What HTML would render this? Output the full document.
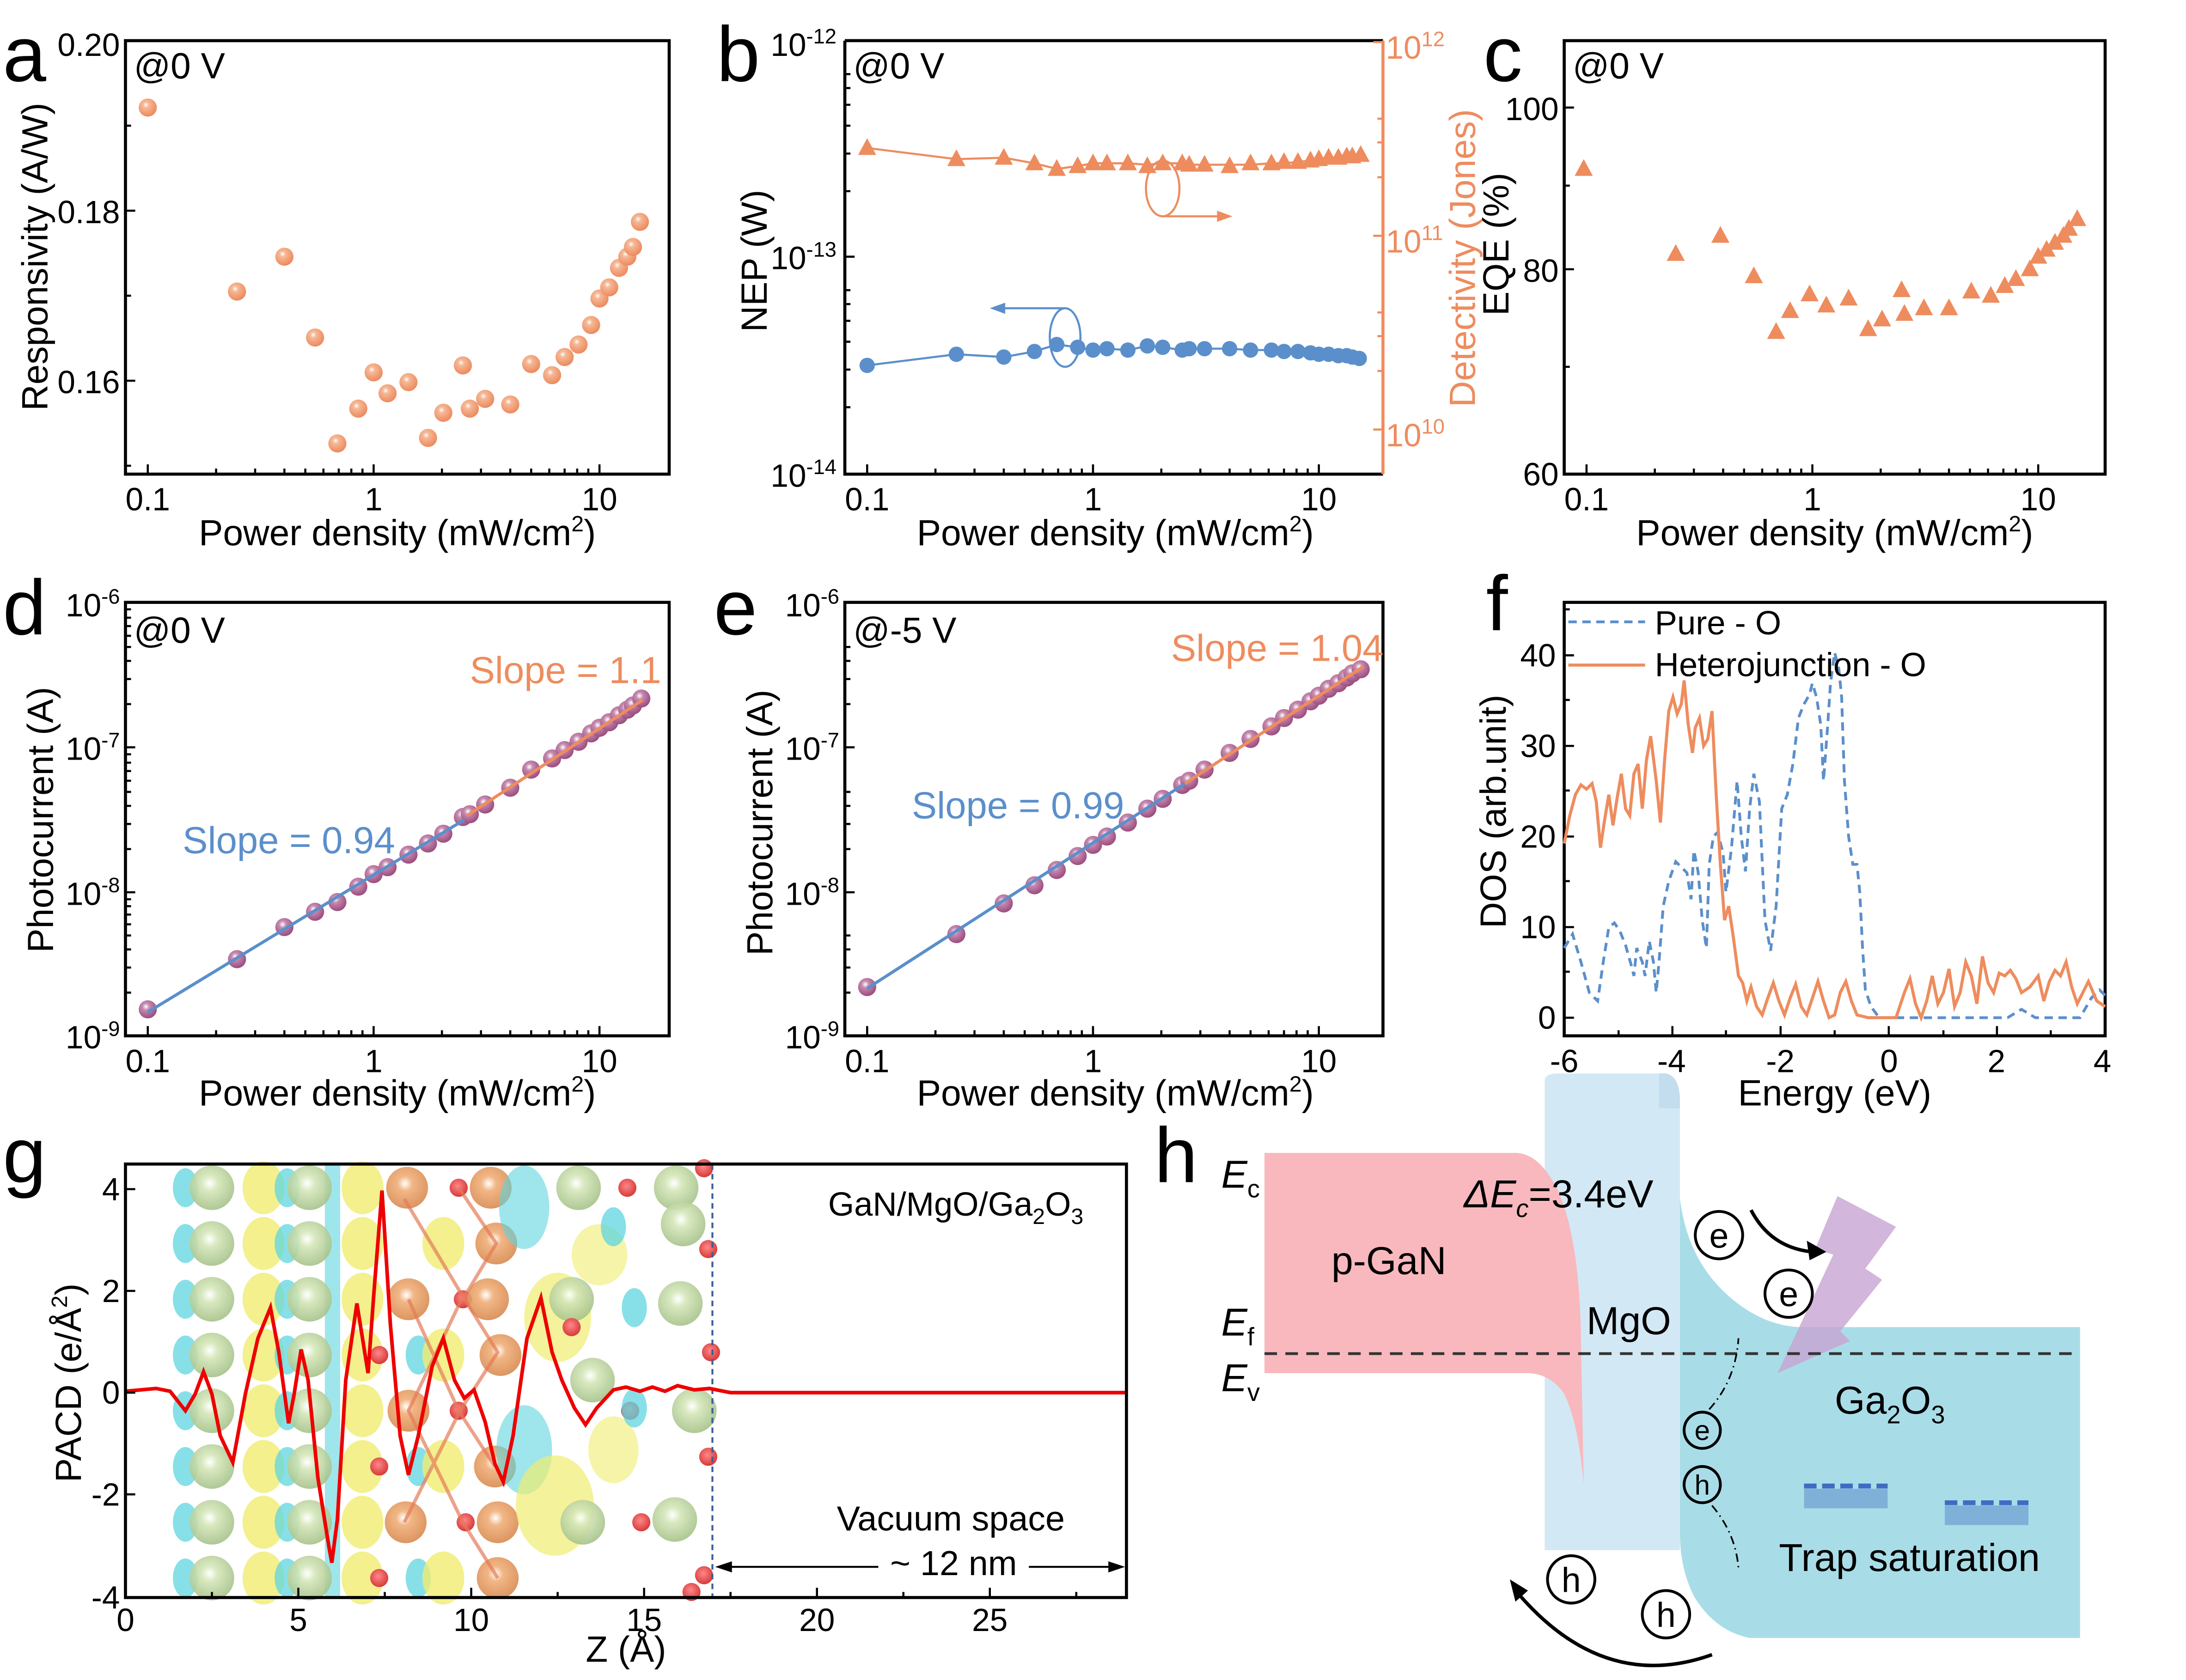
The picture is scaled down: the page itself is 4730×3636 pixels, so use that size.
<!DOCTYPE html>
<html><head><meta charset="utf-8"><style>
html,body{margin:0;padding:0;background:#fff;overflow:hidden}
svg{display:block}
text{font-family:"Liberation Sans Narrow","Liberation Sans",Arial,sans-serif}
.t{font-size:23px}
.l{font-size:26px}
.p{font-size:56px;font-family:"Liberation Sans",Arial,sans-serif}
</style></head><body>
<svg width="4730" height="3636" viewBox="0 0 1568 1205" xmlns="http://www.w3.org/2000/svg">
<defs>
<radialGradient id="og" cx="0.4" cy="0.35" r="0.65"><stop offset="0" stop-color="#fff"/><stop offset="0.25" stop-color="#f6b896"/><stop offset="1" stop-color="#ec8a5e"/></radialGradient>
<radialGradient id="pg" cx="0.4" cy="0.35" r="0.65"><stop offset="0" stop-color="#fff"/><stop offset="0.3" stop-color="#c58ab0"/><stop offset="1" stop-color="#9c4d7e"/></radialGradient>
<radialGradient id="gg" cx="0.45" cy="0.4" r="0.6"><stop offset="0" stop-color="#fff"/><stop offset="0.3" stop-color="#d4e6b8"/><stop offset="1" stop-color="#a6c28a"/></radialGradient>
<radialGradient id="org" cx="0.45" cy="0.4" r="0.6"><stop offset="0" stop-color="#fff"/><stop offset="0.3" stop-color="#f0ae78"/><stop offset="1" stop-color="#d88a50"/></radialGradient>
<radialGradient id="rg" cx="0.45" cy="0.4" r="0.6"><stop offset="0" stop-color="#f88"/><stop offset="1" stop-color="#d63a3a"/></radialGradient>
<circle id="ma" r="6.5" fill="url(#og)"/>
<circle id="mp" r="6.5" fill="url(#pg)"/>
<circle id="mb" r="5.5" fill="#5b8fcb"/>
<path id="tr" d="M0,-7 L6.5,5 L-6.5,5Z" fill="#ee8c5e"/>
<circle id="G" r="16" fill="url(#gg)" opacity="0.9"/>
<circle id="O" r="15" fill="url(#org)" opacity="0.9"/>
<circle id="R" r="6.5" fill="url(#rg)"/>
<ellipse id="Y" rx="15" ry="19" fill="#f0ec70" opacity="0.8"/>
<ellipse id="C" rx="9" ry="14" fill="#5fd6e0" opacity="0.75"/>
</defs>

<!-- ===== Panel a ===== -->
<text x="2" y="58" class="p">a</text>
<rect x="90" y="29" width="390" height="311" fill="none" stroke="#000" stroke-width="2.2"/>
<g stroke="#000" stroke-width="1.5">
<path d="M106,340v-7M268,340v-7M430,340v-7M155,340v-4M183,340v-4M204,340v-4M219,340v-4M232,340v-4M243,340v-4M252,340v-4M260,340v-4M317,340v-4M345,340v-4M366,340v-4M381,340v-4M394,340v-4M405,340v-4M414,340v-4M422,340v-4"/>
<path d="M90,29h7M90,151h7M90,273h7M90,90h4M90,212h4M90,334h4"/>
</g>
<g class="t" text-anchor="end"><text x="86" y="40">0.20</text><text x="86" y="160">0.18</text><text x="86" y="282">0.16</text></g>
<g class="t" text-anchor="middle"><text x="106" y="366">0.1</text><text x="268" y="366">1</text><text x="430" y="366">10</text></g>
<text x="285" y="391" class="l" text-anchor="middle">Power density (mW/cm<tspan dy="-10" font-size="16">2</tspan><tspan dy="10">)</tspan></text>
<text transform="translate(34,184) rotate(-90)" class="l" text-anchor="middle">Responsivity (A/W)</text>
<text x="96" y="56" style="font-size:26px">@0 V</text>
<g>
<use href="#ma" x="106" y="77"/><use href="#ma" x="170" y="209"/><use href="#ma" x="204" y="184"/><use href="#ma" x="226" y="242"/><use href="#ma" x="242" y="318"/><use href="#ma" x="257" y="293"/><use href="#ma" x="268" y="267"/><use href="#ma" x="278" y="282"/><use href="#ma" x="293" y="274"/><use href="#ma" x="307" y="314"/><use href="#ma" x="318" y="296"/><use href="#ma" x="332" y="262"/><use href="#ma" x="337" y="293"/><use href="#ma" x="348" y="286"/><use href="#ma" x="366" y="290"/><use href="#ma" x="381" y="261"/><use href="#ma" x="396" y="269"/><use href="#ma" x="405" y="256"/><use href="#ma" x="415" y="247"/><use href="#ma" x="424" y="233"/><use href="#ma" x="430" y="214"/><use href="#ma" x="437" y="206"/><use href="#ma" x="444" y="192"/><use href="#ma" x="450" y="184"/><use href="#ma" x="454" y="177"/><use href="#ma" x="459" y="159"/>
</g>

<!-- ===== Panel b ===== -->
<text x="514" y="58" class="p">b</text>
<path d="M606,29H992M606,29V340H992" fill="none" stroke="#000" stroke-width="2.2"/>
<path d="M992,29V340" stroke="#ee8c5e" stroke-width="2.2"/>
<g stroke="#000" stroke-width="1.5">
<path d="M622,340v-7M784,340v-7M946,340v-7M671,340v-4M699,340v-4M720,340v-4M735,340v-4M748,340v-4M759,340v-4M768,340v-4M776,340v-4M833,340v-4M861,340v-4M882,340v-4M897,340v-4M910,340v-4M921,340v-4M930,340v-4M938,340v-4"/>
<path d="M606,29h7M606,184h7M606,340h7M606,137h4M606,110h4M606,90h4M606,75h4M606,63h4M606,53h4M606,292h4M606,265h4M606,245h4M606,230h4M606,218h4M606,208h4"/>
</g>
<g stroke="#ee8c5e" stroke-width="1.5"><path d="M992,30h-7M992,169h-7M992,308h-7M992,127h-4M992,102h-4M992,85h-4M992,266h-4M992,241h-4M992,224h-4"/></g>
<g class="t"><text x="600" y="40" text-anchor="end">10<tspan dy="-9" font-size="15">-12</tspan></text><text x="600" y="193" text-anchor="end">10<tspan dy="-9" font-size="15">-13</tspan></text><text x="600" y="349" text-anchor="end">10<tspan dy="-9" font-size="15">-14</tspan></text></g>
<g class="t" fill="#ee8c5e"><text x="994" y="42">10<tspan dy="-9" font-size="15">12</tspan></text><text x="994" y="181">10<tspan dy="-9" font-size="15">11</tspan></text><text x="994" y="320">10<tspan dy="-9" font-size="15">10</tspan></text></g>
<g class="t" text-anchor="middle"><text x="622" y="366">0.1</text><text x="784" y="366">1</text><text x="946" y="366">10</text></g>
<text x="800" y="391" class="l" text-anchor="middle">Power density (mW/cm<tspan dy="-10" font-size="16">2</tspan><tspan dy="10">)</tspan></text>
<text transform="translate(550,187) rotate(-90)" class="l" text-anchor="middle">NEP (W)</text>
<text transform="translate(1058,185) rotate(-90)" class="l" text-anchor="middle" fill="#ee8c5e">Detectivity (Jones)</text>
<text x="612" y="56" style="font-size:26px">@0 V</text>
<polyline fill="none" stroke="#ee8c5e" stroke-width="1.5" points="622,106 686,114 720,113 742,117 758,121 773,119 784,117 794,117 809,117 823,118 834,117 848,117 853,118 864,118 882,118 897,118 912,117 921,117 931,116 940,115 946,114 953,113 960,113 966,112 970,112 976,111"/>
<g><use href="#tr" x="622" y="106"/><use href="#tr" x="686" y="114"/><use href="#tr" x="720" y="113"/><use href="#tr" x="742" y="117"/><use href="#tr" x="758" y="121"/><use href="#tr" x="773" y="119"/><use href="#tr" x="784" y="117"/><use href="#tr" x="794" y="117"/><use href="#tr" x="809" y="117"/><use href="#tr" x="823" y="119"/><use href="#tr" x="834" y="117"/><use href="#tr" x="848" y="117"/><use href="#tr" x="853" y="118"/><use href="#tr" x="864" y="118"/><use href="#tr" x="882" y="119"/><use href="#tr" x="897" y="117"/><use href="#tr" x="912" y="117"/><use href="#tr" x="921" y="116"/><use href="#tr" x="931" y="116"/><use href="#tr" x="940" y="115"/><use href="#tr" x="946" y="114"/><use href="#tr" x="953" y="113"/><use href="#tr" x="960" y="113"/><use href="#tr" x="966" y="112"/><use href="#tr" x="970" y="112"/><use href="#tr" x="976" y="111"/></g>
<polyline fill="none" stroke="#5b8fcb" stroke-width="1.5" points="622,262 686,254 720,256 742,252 758,247 773,249 784,251 794,250 809,251 823,248 834,249 848,251 853,250 864,250 882,250 897,251 912,251 921,252 931,252 940,253 946,254 953,254 960,255 966,255 970,256 976,257"/>
<g><use href="#mb" x="622" y="262"/><use href="#mb" x="686" y="254"/><use href="#mb" x="720" y="256"/><use href="#mb" x="742" y="252"/><use href="#mb" x="758" y="247"/><use href="#mb" x="773" y="249"/><use href="#mb" x="784" y="251"/><use href="#mb" x="794" y="250"/><use href="#mb" x="809" y="251"/><use href="#mb" x="823" y="248"/><use href="#mb" x="834" y="249"/><use href="#mb" x="848" y="251"/><use href="#mb" x="853" y="250"/><use href="#mb" x="864" y="250"/><use href="#mb" x="882" y="250"/><use href="#mb" x="897" y="251"/><use href="#mb" x="912" y="251"/><use href="#mb" x="921" y="252"/><use href="#mb" x="931" y="252"/><use href="#mb" x="940" y="253"/><use href="#mb" x="946" y="254"/><use href="#mb" x="953" y="254"/><use href="#mb" x="960" y="255"/><use href="#mb" x="966" y="255"/><use href="#mb" x="970" y="256"/><use href="#mb" x="975" y="257"/></g>
<ellipse cx="834" cy="135" rx="12" ry="20" fill="none" stroke="#ee8c5e" stroke-width="1.5"/>
<path d="M834,155H880" stroke="#ee8c5e" stroke-width="1.5"/><path d="M884,155l-11,-4v8z" fill="#ee8c5e"/>
<ellipse cx="764" cy="242" rx="11" ry="21" fill="none" stroke="#5b8fcb" stroke-width="1.5"/>
<path d="M764,221H714" stroke="#5b8fcb" stroke-width="1.5"/><path d="M710,221l11,-4v8z" fill="#5b8fcb"/>

<!-- ===== Panel c ===== -->
<text x="1064" y="58" class="p">c</text>
<rect x="1122" y="29" width="388" height="311" fill="none" stroke="#000" stroke-width="2.2"/>
<g stroke="#000" stroke-width="1.5">
<path d="M1138,340v-7M1300,340v-7M1462,340v-7M1187,340v-4M1215,340v-4M1236,340v-4M1251,340v-4M1264,340v-4M1275,340v-4M1284,340v-4M1292,340v-4M1349,340v-4M1377,340v-4M1398,340v-4M1413,340v-4M1426,340v-4M1437,340v-4M1446,340v-4M1454,340v-4"/>
<path d="M1122,77h7M1122,193h7M1122,340h7M1122,133h4M1122,263h4"/>
</g>
<g class="t" text-anchor="end"><text x="1118" y="86">100</text><text x="1118" y="202">80</text><text x="1118" y="348">60</text></g>
<g class="t" text-anchor="middle"><text x="1138" y="366">0.1</text><text x="1300" y="366">1</text><text x="1462" y="366">10</text></g>
<text x="1316" y="391" class="l" text-anchor="middle">Power density (mW/cm<tspan dy="-10" font-size="16">2</tspan><tspan dy="10">)</tspan></text>
<text transform="translate(1082,175) rotate(-90)" class="l" text-anchor="middle">EQE (%)</text>
<text x="1128" y="56" style="font-size:26px">@0 V</text>
<g><use href="#tr" x="1136" y="121"/><use href="#tr" x="1202" y="182"/><use href="#tr" x="1234" y="169"/><use href="#tr" x="1258" y="198"/><use href="#tr" x="1274" y="238"/><use href="#tr" x="1284" y="223"/><use href="#tr" x="1298" y="211"/><use href="#tr" x="1310" y="219"/><use href="#tr" x="1326" y="214"/><use href="#tr" x="1340" y="236"/><use href="#tr" x="1350" y="229"/><use href="#tr" x="1364" y="208"/><use href="#tr" x="1366" y="225"/><use href="#tr" x="1380" y="221"/><use href="#tr" x="1398" y="221"/><use href="#tr" x="1414" y="209"/><use href="#tr" x="1428" y="212"/><use href="#tr" x="1438" y="205"/><use href="#tr" x="1446" y="200"/><use href="#tr" x="1456" y="193"/><use href="#tr" x="1462" y="184"/><use href="#tr" x="1468" y="179"/><use href="#tr" x="1474" y="174"/><use href="#tr" x="1480" y="169"/><use href="#tr" x="1484" y="164"/><use href="#tr" x="1490" y="157"/></g>

<!-- ===== Panel d ===== -->
<text x="2" y="455" class="p">d</text>
<rect x="90" y="432" width="390" height="311" fill="none" stroke="#000" stroke-width="2.2"/>
<g stroke="#000" stroke-width="1.5">
<path d="M106,743v-7M268,743v-7M430,743v-7M155,743v-4M183,743v-4M204,743v-4M219,743v-4M232,743v-4M243,743v-4M252,743v-4M260,743v-4M317,743v-4M345,743v-4M366,743v-4M381,743v-4M394,743v-4M405,743v-4M414,743v-4M422,743v-4"/>
<path d="M90,432h7M90,536h7M90,640h7M90,743h7M90,505h4M90,487h4M90,474h4M90,464h4M90,456h4M90,449h4M90,443h4M90,437h4M90,609h4M90,591h4M90,578h4M90,568h4M90,560h4M90,553h4M90,547h4M90,541h4M90,712h4M90,694h4M90,681h4M90,671h4M90,663h4M90,656h4M90,650h4M90,645h4"/>
</g>
<g class="t" text-anchor="end"><text x="86" y="442">10<tspan dy="-9" font-size="15">-6</tspan></text><text x="86" y="545">10<tspan dy="-9" font-size="15">-7</tspan></text><text x="86" y="649">10<tspan dy="-9" font-size="15">-8</tspan></text><text x="86" y="752">10<tspan dy="-9" font-size="15">-9</tspan></text></g>
<g class="t" text-anchor="middle"><text x="106" y="769">0.1</text><text x="268" y="769">1</text><text x="430" y="769">10</text></g>
<text x="285" y="793" class="l" text-anchor="middle">Power density (mW/cm<tspan dy="-10" font-size="16">2</tspan><tspan dy="10">)</tspan></text>
<text transform="translate(38,588) rotate(-90)" class="l" text-anchor="middle">Photocurrent (A)</text>
<text x="96" y="461" style="font-size:26px">@0 V</text>
<g><use href="#mp" x="106" y="724"/><use href="#mp" x="170" y="688"/><use href="#mp" x="204" y="665"/><use href="#mp" x="226" y="654"/><use href="#mp" x="242" y="647"/><use href="#mp" x="257" y="636"/><use href="#mp" x="268" y="627"/><use href="#mp" x="278" y="622"/><use href="#mp" x="293" y="613"/><use href="#mp" x="307" y="605"/><use href="#mp" x="318" y="598"/><use href="#mp" x="332" y="586"/><use href="#mp" x="337" y="584"/><use href="#mp" x="348" y="577"/><use href="#mp" x="366" y="565"/><use href="#mp" x="381" y="552"/><use href="#mp" x="396" y="544"/><use href="#mp" x="405" y="538"/><use href="#mp" x="415" y="532"/><use href="#mp" x="424" y="526"/><use href="#mp" x="430" y="522"/><use href="#mp" x="437" y="518"/><use href="#mp" x="444" y="513"/><use href="#mp" x="450" y="509"/><use href="#mp" x="454" y="506"/><use href="#mp" x="460" y="501"/></g>
<path d="M106,726L333,588" stroke="#5b8fcb" stroke-width="2.2"/>
<path d="M335,585L461,502" stroke="#ee8c5e" stroke-width="2.2"/>
<text x="337" y="490" style="font-size:27px" fill="#ee8c5e">Slope = 1.1</text>
<text x="131" y="612" style="font-size:27px" fill="#5b8fcb">Slope = 0.94</text>

<!-- ===== Panel e ===== -->
<text x="512" y="455" class="p">e</text>
<rect x="606" y="432" width="386" height="311" fill="none" stroke="#000" stroke-width="2.2"/>
<g stroke="#000" stroke-width="1.5">
<path d="M622,743v-7M784,743v-7M946,743v-7M671,743v-4M699,743v-4M720,743v-4M735,743v-4M748,743v-4M759,743v-4M768,743v-4M776,743v-4M833,743v-4M861,743v-4M882,743v-4M897,743v-4M910,743v-4M921,743v-4M930,743v-4M938,743v-4"/>
<path d="M606,432h7M606,536h7M606,640h7M606,743h7M606,505h4M606,487h4M606,474h4M606,464h4M606,609h4M606,591h4M606,578h4M606,568h4M606,712h4M606,694h4M606,681h4M606,671h4"/>
</g>
<g class="t" text-anchor="end"><text x="602" y="442">10<tspan dy="-9" font-size="15">-6</tspan></text><text x="602" y="545">10<tspan dy="-9" font-size="15">-7</tspan></text><text x="602" y="649">10<tspan dy="-9" font-size="15">-8</tspan></text><text x="602" y="752">10<tspan dy="-9" font-size="15">-9</tspan></text></g>
<g class="t" text-anchor="middle"><text x="622" y="769">0.1</text><text x="784" y="769">1</text><text x="946" y="769">10</text></g>
<text x="800" y="793" class="l" text-anchor="middle">Power density (mW/cm<tspan dy="-10" font-size="16">2</tspan><tspan dy="10">)</tspan></text>
<text transform="translate(554,590) rotate(-90)" class="l" text-anchor="middle">Photocurrent (A)</text>
<text x="612" y="461" style="font-size:26px">@-5 V</text>
<g><use href="#mp" x="622" y="708"/><use href="#mp" x="686" y="670"/><use href="#mp" x="720" y="648"/><use href="#mp" x="742" y="635"/><use href="#mp" x="758" y="624"/><use href="#mp" x="773" y="614"/><use href="#mp" x="784" y="606"/><use href="#mp" x="794" y="600"/><use href="#mp" x="809" y="590"/><use href="#mp" x="823" y="580"/><use href="#mp" x="834" y="573"/><use href="#mp" x="848" y="563"/><use href="#mp" x="853" y="560"/><use href="#mp" x="864" y="552"/><use href="#mp" x="882" y="540"/><use href="#mp" x="897" y="530"/><use href="#mp" x="912" y="521"/><use href="#mp" x="921" y="515"/><use href="#mp" x="931" y="509"/><use href="#mp" x="940" y="503"/><use href="#mp" x="946" y="499"/><use href="#mp" x="953" y="494"/><use href="#mp" x="960" y="490"/><use href="#mp" x="966" y="486"/><use href="#mp" x="970" y="483"/><use href="#mp" x="976" y="480"/></g>
<path d="M622,709L850,562" stroke="#5b8fcb" stroke-width="2.2"/>
<path d="M850,562L978,478" stroke="#ee8c5e" stroke-width="2.2"/>
<text x="840" y="474" style="font-size:27px" fill="#ee8c5e">Slope = 1.04</text>
<text x="654" y="587" style="font-size:27px" fill="#5b8fcb">Slope = 0.99</text>

<!-- ===== Panel f ===== -->
<text x="1066" y="452" class="p">f</text>
<rect x="1122" y="432" width="388" height="311" fill="none" stroke="#000" stroke-width="2.2"/>
<g stroke="#000" stroke-width="1.5">
<path d="M1122,743v-7M1199.6,743v-7M1277.2,743v-7M1354.8,743v-7M1432.4,743v-7M1161,743v-4M1238,743v-4M1316,743v-4M1394,743v-4M1471,743v-4"/>
<path d="M1122,730h7M1122,665h7M1122,600h7M1122,535h7M1122,470h7M1122,697h4M1122,632h4M1122,567h4M1122,502h4M1122,437h4"/>
</g>
<g class="t" text-anchor="end"><text x="1116" y="738">0</text><text x="1116" y="673">10</text><text x="1116" y="608">20</text><text x="1116" y="543">30</text><text x="1116" y="478">40</text></g>
<g class="t" text-anchor="middle"><text x="1122" y="769">-6</text><text x="1199" y="769">-4</text><text x="1277" y="769">-2</text><text x="1355" y="769">0</text><text x="1432" y="769">2</text><text x="1508" y="769">4</text></g>
<text x="1316" y="793" class="l" text-anchor="middle">Energy (eV)</text>
<text transform="translate(1080,582) rotate(-90)" class="l" text-anchor="middle">DOS (arb.unit)</text>
<polyline fill="none" stroke="#5b8fcb" stroke-width="2" stroke-dasharray="6,4" points="1122,680 1128,670 1134,690 1140,712 1146,718 1150,690 1154,665 1158,662 1162,668 1166,678 1170,692 1172,700 1174,680 1178,690 1180,700 1183,675 1186,690 1188,712 1190,690 1193,650 1197,632 1202,618 1206,622 1210,626 1213,645 1215,610 1218,625 1221,660 1224,680 1226,620 1229,600 1232,597 1236,612 1238,640 1242,608 1246,560 1249,600 1252,625 1255,580 1258,555 1262,575 1266,660 1270,682 1274,650 1278,580 1282,570 1286,548 1290,515 1294,505 1298,498 1300,490 1303,500 1306,520 1308,560 1311,520 1313,490 1316,468 1319,480 1321,500 1323,560 1326,600 1329,620 1332,620 1334,640 1336,680 1338,710 1342,722 1348,730 1375,730 1400,730 1440,730 1450,724 1460,730 1492,730 1500,716 1506,710 1510,714"/>
<polyline fill="none" stroke="#ee8c5e" stroke-width="2.2" points="1122,605 1126,585 1130,570 1134,563 1138,566 1142,562 1145,575 1148,608 1151,588 1154,570 1157,592 1160,572 1163,555 1166,580 1169,585 1172,555 1175,548 1178,580 1181,545 1184,528 1188,560 1191,590 1194,545 1197,510 1200,500 1203,512 1206,505 1208,488 1211,520 1214,540 1216,522 1219,515 1222,535 1225,530 1228,510 1231,570 1234,620 1237,660 1240,650 1243,670 1247,700 1250,705 1253,718 1256,708 1260,722 1264,728 1268,716 1272,705 1276,718 1280,728 1284,716 1288,706 1292,722 1296,728 1300,716 1304,704 1308,718 1312,730 1316,728 1320,712 1324,704 1328,718 1332,728 1340,730 1360,730 1366,712 1370,702 1374,720 1378,730 1382,718 1386,700 1390,720 1394,712 1398,695 1402,722 1406,712 1410,690 1414,700 1418,720 1422,686 1426,705 1430,712 1434,698 1438,700 1442,696 1446,702 1450,712 1456,708 1462,700 1466,718 1470,704 1474,696 1478,700 1482,690 1486,708 1490,720 1494,712 1498,704 1504,718 1510,722"/>
<path d="M1125,446H1180" stroke="#5b8fcb" stroke-width="2" stroke-dasharray="6,4"/>
<text x="1187" y="455" style="font-size:24px">Pure - O</text>
<path d="M1125,477H1180" stroke="#ee8c5e" stroke-width="2.2"/>
<text x="1187" y="485" style="font-size:24px">Heterojunction - O</text>

<!-- ===== Panel g ===== -->
<text x="2" y="848" class="p">g</text>
<g>
<rect x="233" y="835" width="11" height="311" fill="#5fd6e0" opacity="0.6"/>
<g>
<use href="#C" x="133" y="852"/><use href="#C" x="133" y="892"/><use href="#C" x="133" y="932"/><use href="#C" x="133" y="972"/><use href="#C" x="133" y="1012"/><use href="#C" x="133" y="1052"/><use href="#C" x="133" y="1092"/><use href="#C" x="133" y="1132"/>
<use href="#G" x="152" y="852"/><use href="#G" x="152" y="892"/><use href="#G" x="152" y="932"/><use href="#G" x="152" y="972"/><use href="#G" x="152" y="1012"/><use href="#G" x="152" y="1052"/><use href="#G" x="152" y="1092"/><use href="#G" x="152" y="1132"/>
<use href="#Y" x="189" y="852"/><use href="#Y" x="189" y="892"/><use href="#Y" x="189" y="932"/><use href="#Y" x="189" y="972"/><use href="#Y" x="189" y="1012"/><use href="#Y" x="189" y="1052"/><use href="#Y" x="189" y="1092"/><use href="#Y" x="189" y="1132"/>
<use href="#C" x="206" y="852"/><use href="#C" x="206" y="892"/><use href="#C" x="206" y="932"/><use href="#C" x="206" y="972"/><use href="#C" x="206" y="1012"/><use href="#C" x="206" y="1052"/><use href="#C" x="206" y="1092"/><use href="#C" x="206" y="1132"/>
<use href="#G" x="222" y="852"/><use href="#G" x="222" y="892"/><use href="#G" x="222" y="932"/><use href="#G" x="222" y="972"/><use href="#G" x="222" y="1012"/><use href="#G" x="222" y="1052"/><use href="#G" x="222" y="1092"/><use href="#G" x="222" y="1132"/>
<use href="#Y" x="260" y="852"/><use href="#Y" x="260" y="892"/><use href="#Y" x="260" y="932"/><use href="#Y" x="260" y="972"/><use href="#Y" x="260" y="1012"/><use href="#Y" x="260" y="1052"/><use href="#Y" x="260" y="1092"/><use href="#Y" x="260" y="1132"/>
<use href="#R" x="272" y="972"/><use href="#R" x="272" y="1052"/><use href="#R" x="272" y="1132"/>
<use href="#O" x="292" y="852"/><use href="#O" x="293" y="932"/><use href="#O" x="293" y="1012"/><use href="#O" x="291" y="1092"/>
<use href="#C" x="300" y="972"/><use href="#C" x="300" y="1052"/><use href="#C" x="300" y="1132"/>
<use href="#Y" x="318" y="892"/><use href="#Y" x="318" y="972"/><use href="#Y" x="318" y="1052"/><use href="#Y" x="318" y="1132"/>
<use href="#R" x="329" y="852"/><use href="#R" x="332" y="932"/><use href="#R" x="329" y="1012"/><use href="#R" x="334" y="1092"/>
<use href="#O" x="352" y="852"/><use href="#O" x="356" y="892"/><use href="#O" x="350" y="932"/><use href="#O" x="359" y="972"/><use href="#O" x="355" y="1052"/><use href="#O" x="357" y="1092"/><use href="#O" x="357" y="1132"/>
<ellipse cx="376" cy="866" rx="18" ry="30" fill="#5fd6e0" opacity="0.6"/>
<ellipse cx="376" cy="1040" rx="20" ry="32" fill="#5fd6e0" opacity="0.6"/>
<ellipse cx="400" cy="945" rx="24" ry="32" fill="#f0ec70" opacity="0.7"/>
<ellipse cx="398" cy="1080" rx="28" ry="36" fill="#f0ec70" opacity="0.7"/>
<ellipse cx="430" cy="900" rx="20" ry="22" fill="#f0ec70" opacity="0.6"/>
<ellipse cx="440" cy="1040" rx="18" ry="24" fill="#f0ec70" opacity="0.6"/>
<use href="#G" x="415" y="852"/><use href="#G" x="410" y="932"/><use href="#G" x="425" y="990"/><use href="#G" x="418" y="1092"/>
<use href="#R" x="410" y="952"/><use href="#R" x="450" y="852"/><use href="#R" x="452" y="1012"/><use href="#R" x="460" y="1092"/>
<use href="#C" x="440" y="880"/><use href="#C" x="455" y="1010"/><use href="#C" x="455" y="938"/>
<use href="#G" x="485" y="852"/><use href="#G" x="490" y="878"/><use href="#G" x="488" y="935"/><use href="#G" x="498" y="1012"/><use href="#G" x="484" y="1090"/>
<use href="#R" x="505" y="838"/><use href="#R" x="508" y="896"/><use href="#R" x="510" y="970"/><use href="#R" x="508" y="1045"/><use href="#R" x="505" y="1130"/><use href="#R" x="496" y="1142"/>
</g>
<g stroke="#e47a58" stroke-width="2.5" opacity="0.7" fill="none">
<path d="M290,860L332,930L357,970L330,1012L290,1092M332,930L293,1012L332,1092L357,1132M329,852L356,892L332,932M355,1052L329,1012L293,932"/>
</g>
<path d="M511,835V1146" stroke="#3a5f9a" stroke-width="1.4" stroke-dasharray="4,3"/>
<polyline fill="none" stroke="#e00" stroke-width="2.6" points="90,998 112,996 122,998 133,1012 140,1000 146,984 152,1000 158,1030 167,1049 176,1000 185,960 194,938 200,970 207,1021 211,1000 216,968 221,990 228,1060 236,1110 238,1121 242,1090 248,990 256,935 260,960 264,985 268,930 274,854 280,950 287,1030 293,1058 300,1030 310,980 318,960 326,990 333,1003 340,997 348,1020 355,1050 361,1063 368,1030 378,960 388,931 396,970 403,990 412,1010 420,1022 428,1010 440,997 449,995 459,998 468,995 477,998 486,994 498,997 509,996 524,999 808,999"/>
<rect x="90" y="835" width="718" height="311" fill="none" stroke="#000" stroke-width="2.2"/>
</g>
<g stroke="#000" stroke-width="1.5">
<path d="M90,1146v-7M214,1146v-7M338,1146v-7M462,1146v-7M586,1146v-7M710,1146v-7M152,1146v-4M276,1146v-4M400,1146v-4M524,1146v-4M648,1146v-4M772,1146v-4"/>
<path d="M90,853h7M90,926h7M90,999h7M90,1072h7M90,1146h7"/>
</g>
<g class="t" text-anchor="end"><text x="86" y="861">4</text><text x="86" y="934">2</text><text x="86" y="1007">0</text><text x="86" y="1080">-2</text><text x="86" y="1154">-4</text></g>
<g class="t" text-anchor="middle"><text x="90" y="1170">0</text><text x="214" y="1170">5</text><text x="338" y="1170">10</text><text x="462" y="1170">15</text><text x="586" y="1170">20</text><text x="710" y="1170">25</text></g>
<text x="449" y="1192" class="l" text-anchor="middle">Z (Å)</text>
<text transform="translate(58,992) rotate(-90)" class="l" text-anchor="middle">PACD (e/Å<tspan dy="-10" font-size="16">2</tspan><tspan dy="10">)</tspan></text>
<text x="594" y="872" style="font-size:24px">GaN/MgO/Ga<tspan dy="6" font-size="16">2</tspan><tspan dy="-6">O</tspan><tspan dy="6" font-size="16">3</tspan></text>
<text x="682" y="1098" style="font-size:25px" text-anchor="middle">Vacuum space</text>
<text x="684" y="1130" style="font-size:25px" text-anchor="middle">~ 12 nm</text>
<path d="M520,1124H630M738,1124H800" stroke="#000" stroke-width="1.4"/>
<path d="M513,1124l12,-4v8zM807,1124l-12,-4v8z" fill="#000"/>

<!-- ===== Panel h ===== -->
<text x="828" y="848" class="p">h</text>
<path d="M1108,775 Q1108,770 1118,770 L1195,770 Q1205,772 1205,790 L1205,1112 L1108,1112Z" fill="#d3e8f5"/>
<path d="M1190,770 L1195,770 Q1205,772 1205,790 L1205,795 L1190,795Z" fill="#c3dcee"/>
<path d="M907,827 L1088,827 Q1105,828 1118,855 Q1133,890 1134,960 L1136,1065 Q1132,1020 1122,1000 Q1112,985 1095,985 L907,985Z" fill="#f8b8be"/>
<path d="M1205,790 L1205,860 Q1210,900 1235,925 Q1260,950 1290,952 L1492,952 L1492,1175 L1255,1175 Q1230,1170 1215,1145 Q1205,1125 1205,1100Z" fill="#a8dde8"/>
<path d="M1275,985 L1315,900 L1302,896 L1318,858 L1360,880 L1338,910 L1350,918 L1320,955 L1327,962Z" fill="#c8a4d2" opacity="0.8"/>
<path d="M907,971H1492" stroke="#333" stroke-width="2" stroke-dasharray="9,6"/>
<rect x="1294" y="1068" width="60" height="14" fill="#7fb1d8"/>
<path d="M1294,1066H1354" stroke="#3f6cc3" stroke-width="3.5" stroke-dasharray="9,4"/>
<rect x="1395" y="1080" width="60" height="14" fill="#7fb1d8"/>
<path d="M1395,1078H1455" stroke="#3f6cc3" stroke-width="3.5" stroke-dasharray="9,4"/>
<g style="font-size:28px"><text x="876" y="852" font-style="italic">E<tspan dy="7" font-size="18" font-style="normal">c</tspan></text>
<text x="876" y="958" font-style="italic">E<tspan dy="7" font-size="18" font-style="normal">f</tspan></text>
<text x="876" y="998" font-style="italic">E<tspan dy="7" font-size="18" font-style="normal">v</tspan></text>
<text x="955" y="914">p-GaN</text>
<text x="1050" y="866" font-style="italic">ΔE<tspan dy="7" font-size="18">c</tspan><tspan dy="-7" font-style="normal">=3.4eV</tspan></text>
<text x="1138" y="957">MgO</text>
<text x="1316" y="1014">Ga<tspan dy="7" font-size="18">2</tspan><tspan dy="-7">O</tspan><tspan dy="7" font-size="18">3</tspan></text>
<text x="1276" y="1127">Trap saturation</text></g>
<g fill="none" stroke="#000" stroke-width="2">
<circle cx="1233" cy="886" r="17"/><circle cx="1283" cy="928" r="17"/><circle cx="1221" cy="1026" r="13"/><circle cx="1221" cy="1065" r="13"/><circle cx="1127" cy="1133" r="17"/><circle cx="1195" cy="1158" r="17"/>
<path d="M1256,868 Q1270,895 1300,898" stroke-width="2.5"/>
<path d="M1228,1187 Q1150,1215 1088,1142" stroke-width="2.5"/>
<path d="M1226,1011 Q1245,990 1247,960" stroke-width="1.2" stroke-dasharray="6,3,1,3"/>
<path d="M1228,1080 Q1245,1100 1247,1125" stroke-width="1.2" stroke-dasharray="6,3,1,3"/>
</g>
<path d="M1310,898 l-14,-8 l2,14z" fill="#000"/>
<path d="M1083,1133 l4,16 l9,-8z" fill="#000"/>
<g style="font-size:25px" text-anchor="middle"><text x="1233" y="895">e</text><text x="1283" y="937">e</text><text x="1221" y="1033" style="font-size:20px">e</text><text x="1221" y="1072" style="font-size:20px">h</text><text x="1127" y="1142">h</text><text x="1195" y="1167">h</text></g>
</svg>
</body></html>
